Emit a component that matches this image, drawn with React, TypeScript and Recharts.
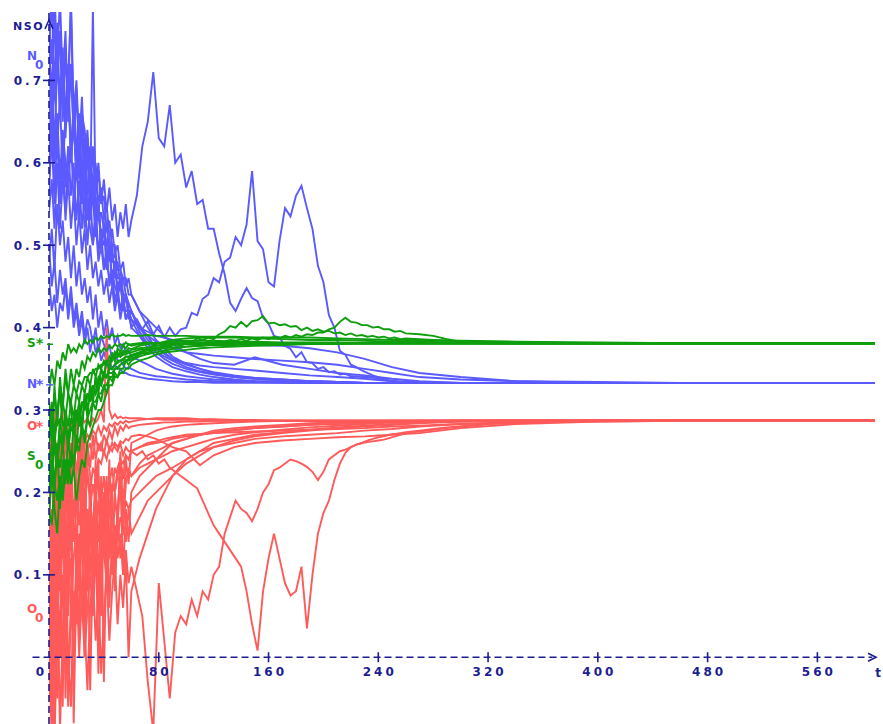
import React from 'react';
import { LineChart, Line, XAxis, YAxis, ReferenceLine, ReferenceDot } from 'recharts';

// ---------- time grids ----------
const T_A = [0,2,4,6,8,10,12,14,16,18,20,22,24,26,28,30,32,34,36,38,40,42,44,46,48,50,52,54,56,58,60,
  66,72,78,84,90,100,110,120,135,150,170,190,210,230,250,270,300,340,400,460,602];
const T_OUT = [0,2,4,6,8,10,12,14,16,18,20,22,24,26,28,30,32,34,36,38,40,42,44,46,48,50,52,54,56,58,60,
  64,68,72,76,80,84,88,92,96,100,104,108,112,116,120,124,128,132,136,140,144,148,152,156,160,
  164,168,172,176,180,184,188,192,196,200,204,208,212,216,220,224,228,232,236,240,244,248,252,256,260,
  270,280,290,300,320,340,360,400,460,602];

// ---------- axis ticks ----------
const X_TICKS = [80,160,240,320,400,480,560];
const Y_TICKS = [0.1,0.2,0.3,0.4,0.5,0.6,0.7];

// ---------- N (blue) runs on T_A ----------
const N1 = [.74,.80,.69,.77,.66,.72,.63,.70,.60,.66,.58,.63,.55,.61,.53,.57,.50,.55,.49,.52,.47,.50,.45,.47,.43,.45,.42,.44,.41,.42,.40,
  .39,.38,.37,.365,.36,.352,.347,.344,.34,.338,.336,.335,.334,.333,.333,.333,.333,.333,.333,.333,.333];
const N2 = [.66,.70,.62,.72,.68,.74,.66,.70,.79,.64,.60,.66,.58,.63,.56,.59,.55,.52,.55,.50,.52,.48,.50,.46,.47,.45,.46,.43,.44,.42,.42,
  .40,.39,.375,.37,.362,.355,.35,.345,.341,.339,.337,.335,.334,.333,.333,.333,.333,.333,.333,.333,.333];
const N3 = [.58,.63,.55,.60,.52,.58,.54,.62,.56,.60,.53,.58,.52,.56,.50,.55,.79,.55,.54,.51,.50,.53,.48,.50,.46,.48,.45,.46,.44,.43,.42,
  .40,.39,.383,.38,.375,.37,.368,.366,.364,.362,.36,.358,.355,.35,.345,.34,.337,.335,.334,.333,.333];
const N4 = [.50,.45,.48,.43,.47,.44,.46,.42,.45,.41,.43,.40,.42,.39,.41,.40,.38,.40,.37,.39,.38,.37,.38,.36,.37,.36,.36,.355,.35,.352,.35,
  .345,.343,.341,.34,.339,.337,.336,.335,.334,.334,.333,.333,.333,.333,.333,.333,.333,.333,.333,.333,.333];
const N5 = [.62,.68,.60,.66,.58,.64,.60,.57,.63,.55,.60,.53,.58,.52,.55,.52,.50,.53,.48,.50,.47,.48,.46,.47,.45,.44,.45,.43,.42,.42,.41,
  .40,.395,.39,.388,.385,.383,.382,.38,.38,.379,.378,.375,.37,.362,.352,.345,.34,.335,.333,.333,.333];
const N6 = [.70,.75,.68,.73,.66,.70,.64,.68,.62,.66,.60,.64,.58,.61,.57,.58,.55,.56,.53,.54,.52,.50,.51,.48,.48,.46,.46,.44,.44,.42,.42,
  .40,.385,.375,.368,.362,.357,.354,.352,.35,.348,.345,.342,.34,.338,.335,.334,.333,.333,.333,.333,.333];
const N7 = [.54,.58,.52,.60,.55,.63,.57,.62,.60,.65,.58,.62,.56,.60,.55,.56,.58,.53,.55,.51,.52,.50,.50,.48,.49,.47,.47,.46,.46,.44,.44,
  .42,.41,.40,.39,.38,.37,.362,.357,.355,.364,.355,.35,.345,.342,.338,.335,.333,.333,.333,.333,.333];
const N8 = [.46,.42,.44,.40,.43,.42,.45,.41,.44,.40,.42,.39,.41,.38,.40,.37,.39,.37,.38,.36,.37,.36,.36,.35,.355,.35,.35,.345,.345,.343,.342,
  .34,.338,.337,.336,.335,.334,.334,.333,.333,.333,.333,.333,.333,.333,.333,.333,.333,.333,.333,.333,.333];
const N9 = [.77,.72,.82,.70,.76,.68,.74,.66,.71,.64,.68,.62,.66,.60,.63,.58,.61,.56,.59,.55,.56,.52,.53,.50,.50,.47,.47,.44,.44,.42,.41,
  .39,.375,.365,.358,.352,.347,.343,.34,.337,.335,.334,.333,.333,.333,.333,.333,.333,.333,.333,.333,.333];
const N10 = [.75,.68,.78,.72,.80,.70,.76,.65,.72,.63,.69,.61,.66,.64,.60,.62,.57,.60,.55,.57,.53,.55,.51,.52,.49,.50,.47,.48,.45,.46,.44,
  .42,.40,.385,.375,.365,.356,.35,.346,.342,.339,.337,.335,.334,.333,.333,.333,.333,.333,.333,.333,.333];
const N11 = [.56,.64,.70,.62,.68,.58,.66,.72,.60,.68,.62,.58,.65,.55,.62,.53,.58,.51,.56,.49,.53,.47,.50,.45,.48,.44,.46,.42,.44,.41,.42,
  .395,.38,.37,.362,.356,.35,.346,.343,.34,.338,.336,.335,.334,.333,.333,.333,.333,.333,.333,.333,.333];
const N12 = [.48,.52,.47,.55,.50,.53,.48,.51,.46,.50,.45,.48,.44,.46,.43,.45,.41,.44,.40,.42,.39,.41,.385,.40,.38,.39,.375,.38,.37,.372,.365,
  .36,.355,.35,.347,.344,.341,.339,.337,.336,.335,.334,.333,.333,.333,.333,.333,.333,.333,.333,.333,.333];
// N outlier runs on T_OUT
const NO1 = [.72,.66,.78,.70,.76,.65,.73,.68,.80,.66,.70,.62,.68,.60,.64,.58,.62,.57,.60,.55,.58,.54,.57,.53,.55,.51,.54,.52,.55,.51,.53,
  .56,.62,.65,.71,.63,.62,.67,.60,.61,.57,
  .59,.55,.555,.52,.52,.49,.465,.43,.42,.435,
  .448,.436,.432,.412,.405,.39,.388,.378,.374,.364,
  .37,.358,.357,.35,.352,.346,.347,.343,.344,.341,
  .341,.34,.34,.339,.338,.337,.336,.335,.334,.334,
  .333,.333,.333,.333,.333,.333,.333,.333,.333,.333];
const NO2 = [.60,.66,.57,.63,.55,.61,.53,.58,.52,.56,.50,.54,.49,.52,.47,.50,.46,.48,.45,.47,.44,.46,.43,.45,.42,.44,.41,.43,.41,.42,.40,
  .41,.398,.408,.392,.402,.388,.40,.39,.398,.40,
  .418,.415,.435,.44,.46,.455,.48,.485,.51,.50,
  .525,.59,.505,.495,.455,.45,.505,.545,.535,.56,
  .572,.545,.52,.475,.455,.415,.40,.372,.367,.355,
  .352,.348,.345,.342,.34,.338,.336,.335,.334,.334,
  .333,.333,.333,.333,.333,.333,.333,.333,.333,.333];

// ---------- S (green) runs on T_A ----------
const S1 = [.30,.27,.32,.29,.33,.31,.34,.32,.35,.33,.35,.34,.36,.35,.365,.36,.37,.365,.375,.37,.375,.372,.378,.375,.38,.377,.38,.378,.382,.379,.38,
  .381,.382,.381,.38,.381,.381,.381,.381,.381,.381,.381,.381,.381,.381,.381,.381,.381,.381,.381,.381,.381];
const S2 = [.25,.22,.27,.24,.29,.26,.30,.28,.31,.29,.32,.31,.33,.32,.34,.33,.35,.34,.355,.35,.36,.355,.365,.36,.37,.365,.37,.368,.372,.37,.373,
  .375,.376,.378,.378,.379,.38,.38,.381,.381,.381,.381,.381,.381,.381,.381,.381,.381,.381,.381,.381,.381];
const S3 = [.20,.24,.18,.15,.21,.19,.23,.21,.25,.23,.26,.25,.28,.26,.29,.28,.31,.30,.32,.31,.33,.32,.34,.335,.345,.34,.35,.35,.36,.355,.36,
  .365,.368,.37,.372,.374,.377,.378,.379,.379,.38,.38,.381,.381,.381,.381,.381,.381,.381,.381,.381,.381];
const S4 = [.28,.31,.27,.30,.32,.28,.29,.25,.28,.27,.30,.28,.31,.30,.32,.31,.33,.32,.34,.335,.345,.34,.35,.35,.355,.357,.36,.362,.365,.364,.367,
  .37,.375,.38,.383,.385,.387,.388,.388,.388,.387,.386,.385,.385,.384,.383,.383,.382,.382,.381,.381,.381];
const S5 = [.22,.26,.21,.25,.23,.26,.22,.24,.21,.23,.19,.22,.24,.23,.26,.27,.28,.29,.30,.30,.31,.32,.33,.33,.34,.34,.345,.345,.35,.35,.355,
  .36,.363,.367,.37,.371,.373,.375,.376,.377,.378,.379,.38,.38,.381,.381,.381,.381,.381,.381,.381,.381];
const S6 = [.32,.35,.33,.36,.35,.37,.36,.38,.37,.375,.37,.38,.375,.385,.38,.385,.382,.388,.385,.39,.387,.39,.388,.392,.389,.39,.39,.392,.39,.391,.39,
  .39,.391,.39,.39,.39,.39,.389,.389,.389,.388,.388,.388,.387,.386,.385,.385,.384,.383,.382,.381,.381];
const S7 = [.26,.29,.25,.24,.27,.26,.28,.27,.29,.28,.30,.29,.31,.30,.32,.31,.33,.32,.335,.33,.345,.34,.35,.35,.355,.36,.36,.36,.365,.365,.366,
  .37,.372,.375,.377,.38,.38,.381,.381,.381,.381,.381,.381,.381,.381,.381,.381,.381,.381,.381,.381,.381];
const S8 = [.18,.16,.21,.19,.22,.20,.24,.22,.25,.24,.27,.26,.28,.27,.29,.30,.31,.31,.32,.32,.33,.33,.34,.34,.35,.35,.355,.357,.36,.362,.365,
  .368,.37,.373,.375,.376,.377,.378,.379,.38,.38,.381,.381,.381,.381,.381,.381,.381,.381,.381,.381,.381];
const S9 = [.17,.22,.20,.26,.18,.24,.21,.27,.23,.29,.25,.30,.27,.32,.29,.33,.31,.34,.32,.35,.34,.36,.35,.365,.36,.37,.365,.372,.37,.375,.374,
  .378,.38,.381,.382,.383,.384,.384,.384,.383,.383,.382,.382,.382,.381,.381,.381,.381,.381,.381,.381,.381];
const S10 = [.31,.26,.33,.28,.34,.30,.35,.32,.30,.27,.29,.31,.28,.32,.30,.33,.31,.34,.33,.35,.34,.36,.35,.37,.36,.375,.37,.378,.375,.38,.378,
  .38,.381,.381,.381,.381,.381,.381,.381,.381,.381,.381,.381,.381,.381,.381,.381,.381,.381,.381,.381,.381];
// S outlier runs on T_OUT
const SO1 = [.24,.21,.26,.23,.27,.25,.28,.26,.29,.28,.30,.29,.31,.30,.32,.31,.33,.32,.335,.33,.34,.34,.345,.345,.35,.352,.355,.357,.36,.36,.362,
  .365,.37,.368,.374,.373,.378,.376,.382,.379,.384,
  .382,.387,.385,.388,.386,.392,.395,.402,.40,.407,
  .401,.408,.409,.414,.405,.406,.403,.404,.401,.402,
  .397,.40,.396,.398,.395,.396,.393,.394,.391,.393,
  .39,.391,.389,.39,.388,.389,.387,.388,.386,.387,
  .386,.385,.384,.383,.382,.381,.381,.381,.381,.381];
const SO2 = [.27,.30,.26,.29,.28,.31,.29,.32,.31,.33,.32,.335,.33,.34,.34,.345,.345,.35,.35,.355,.355,.36,.36,.362,.363,.365,.365,.367,.368,.369,.37,
  .372,.374,.373,.377,.375,.379,.377,.38,.378,.381,
  .38,.382,.381,.383,.382,.384,.383,.385,.384,.386,
  .384,.387,.385,.388,.386,.389,.387,.39,.388,.391,
  .389,.392,.391,.394,.394,.398,.40,.407,.412,.407,
  .406,.403,.403,.40,.401,.398,.398,.395,.396,.393,
  .392,.39,.386,.383,.381,.381,.381,.381,.381,.381];

// ---------- O (red) runs on T_A ----------
const O1 = [.12,.04,.18,.08,.20,.12,.22,.15,.24,.17,.22,.19,.25,.21,.26,.23,.27,.24,.26,.25,.27,.26,.275,.265,.28,.27,.28,.275,.282,.278,.28,
  .282,.283,.284,.285,.285,.286,.286,.287,.287,.287,.287,.287,.287,.287,.287,.287,.287,.287,.287,.287,.287];
const O2 = [.02,-.10,.06,-.05,.04,.10,-.02,.08,.12,.03,.10,.15,.06,.14,.18,.10,.16,.20,.14,.19,.22,.17,.21,.23,.20,.23,.24,.22,.245,.24,.25,
  .255,.258,.26,.262,.265,.268,.27,.273,.276,.278,.28,.282,.283,.284,.285,.286,.287,.287,.287,.287,.287];
const O3 = [.25,.22,.27,.24,.28,.26,.29,.27,.28,.29,.30,.28,.29,.285,.29,.28,.29,.285,.29,.30,.285,.40,.30,.29,.295,.29,.292,.29,.291,.29,.29,
  .29,.289,.289,.288,.288,.288,.288,.287,.287,.287,.287,.287,.287,.287,.287,.287,.287,.287,.287,.287,.287];
const O4 = [.06,.14,-.04,.10,-.09,.03,.12,.00,-.06,.08,.04,.12,.06,.15,.10,.16,.12,.18,.14,.19,.17,.20,.18,.21,.20,.22,.21,.22,.215,.225,.22,
  .23,.235,.24,.245,.25,.255,.26,.265,.27,.273,.276,.279,.281,.283,.285,.286,.287,.287,.287,.287,.287];
const O5 = [.18,.24,.14,.22,.17,.23,.18,.20,.13,.17,.19,.16,.21,.18,.22,.20,.23,.22,.24,.235,.25,.24,.255,.25,.26,.255,.262,.26,.265,.263,.268,
  .27,.268,.265,.26,.255,.25,.233,.245,.255,.26,.263,.265,.267,.268,.27,.272,.278,.283,.286,.287,.287];
const O6 = [-.05,.05,-.10,.03,-.06,.00,.08,-.02,.06,.02,.09,.03,.07,.00,.06,.10,.05,.12,.07,.11,.13,.09,.14,.12,.16,.14,.17,.16,.19,.18,.19,
  .20,.21,.22,.225,.23,.24,.25,.255,.26,.265,.268,.27,.272,.275,.277,.28,.283,.285,.286,.287,.287];
const O7 = [.22,.27,.20,.25,.19,.23,.26,.21,.25,.23,.26,.24,.27,.26,.27,.265,.275,.27,.28,.27,.28,.275,.283,.28,.285,.282,.286,.284,.287,.285,.286,
  .288,.289,.29,.29,.29,.29,.289,.289,.288,.288,.287,.287,.287,.287,.287,.287,.287,.287,.287,.287,.287];
const O8 = [.08,.00,.12,.03,.14,.06,.10,.15,.05,.12,.16,.09,.15,.12,.08,.14,.17,.13,.19,.16,.20,.18,.22,.20,.23,.22,.24,.235,.245,.24,.25,
  .255,.26,.262,.265,.267,.27,.271,.272,.273,.274,.275,.276,.277,.278,.28,.281,.283,.285,.287,.287,.287];
const O9 = [.10,-.08,.20,.02,.16,-.06,.18,.05,.22,.00,.14,.08,.24,.04,.18,-.04,.12,.20,.06,.22,-.03,.15,.24,.10,.20,.16,.25,.18,.24,.21,.26,
  .265,.27,.275,.278,.28,.282,.283,.284,.285,.286,.287,.287,.287,.287,.287,.287,.287,.287,.287,.287,.287];
const O10 = [.00,.15,-.09,.09,.02,.20,-.05,.12,.16,-.08,.10,.04,.18,.00,.13,.20,.06,.16,-.02,.12,.18,.08,.14,.20,.12,.18,.22,.16,.21,.23,.22,
  .235,.245,.25,.255,.26,.265,.27,.272,.275,.278,.28,.282,.284,.285,.286,.287,.287,.287,.287,.287,.287];
const O11 = [.15,.28,.08,.24,.12,.30,.05,.22,.18,.28,.10,.24,.16,.26,.09,.20,.14,.24,.08,.18,.12,.20,.06,.15,.10,.17,.12,.16,.14,.18,.15,
  .17,.19,.20,.21,.22,.235,.245,.255,.263,.268,.272,.275,.278,.28,.282,.284,.286,.287,.287,.287,.287];
const O12 = [.28,.20,.30,.16,.27,.22,.29,.18,.26,.24,.30,.20,.27,.15,.25,.22,.10,.20,.24,.05,.18,.22,.12,.20,.08,.16,.22,.10,.18,.14,.20,
  .22,.23,.24,.25,.26,.265,.27,.275,.278,.28,.282,.284,.285,.286,.287,.287,.287,.287,.287,.287,.287];
const O13 = [.05,.12,-.02,.08,.00,.10,.04,-.06,.06,.02,.10,.00,.08,.04,-.04,.06,.10,.02,.08,-.02,.05,.10,.02,.08,.12,.04,.10,.06,.12,.00,.08,
  .12,.15,.18,.20,.22,.24,.25,.26,.265,.27,.273,.276,.279,.281,.283,.285,.286,.287,.287,.287,.287];
// O outlier runs on T_OUT
const OO1 = [.10,.18,.04,.15,.08,.20,.12,.17,.22,.14,.18,.21,.16,.20,.23,.18,.21,.19,.22,.17,.20,.16,.18,.14,.16,.12,.15,.10,.13,.09,.11,
  .08,.05,-.03,-.09,.09,.02,-.05,.03,.05,.04,
  .07,.05,.08,.07,.10,.11,.15,.17,.19,.18,
  .175,.165,.18,.20,.21,.227,.23,.235,.24,.238,
  .235,.231,.225,.215,.225,.24,.245,.25,.252,.255,
  .258,.26,.261,.262,.263,.264,.266,.268,.27,.272,
  .274,.276,.278,.28,.283,.285,.286,.287,.287,.287];
const OO2 = [.20,.26,.16,.24,.19,.27,.21,.25,.23,.27,.22,.26,.24,.27,.25,.26,.24,.27,.25,.26,.245,.265,.25,.26,.255,.25,.26,.245,.255,.25,.25,
  .245,.25,.24,.245,.235,.24,.23,.225,.22,.215,
  .21,.205,.19,.175,.16,.15,.14,.13,.12,.11,
  .08,.04,.008,.08,.12,.15,.12,.09,.075,.08,
  .11,.035,.10,.15,.175,.19,.215,.235,.248,.255,
  .258,.26,.263,.265,.267,.268,.27,.271,.272,.273,
  .275,.277,.279,.28,.283,.285,.286,.287,.287,.287];

// ---------- marker labels on the vertical axis ----------
const MARKERS = [
  { key: 'N0', letter: 'N', mark: '0', value: 0.725, series: 'N' },
  { key: 'Sstar', letter: 'S', mark: '*', value: 0.381, series: 'S' },
  { key: 'Nstar', letter: 'N', mark: '*', value: 0.333, series: 'N' },
  { key: 'Ostar', letter: 'O', mark: '*', value: 0.287, series: 'O' },
  { key: 'S0', letter: 'S', mark: '0', value: 0.2407, series: 'S' },
  { key: 'O0', letter: 'O', mark: '0', value: 0.055, series: 'O' },
];

// ---------- styles ----------
const NAVY = '#1c1c94';
const COLORS: Record<string, string> = { N: '#5a5aff', S: '#0e9e0e', O: '#ff5a5a' };
const FONT = "'DejaVu Sans', Verdana, sans-serif";
const MARK_DY: Record<string, number> = { N0: 0, Sstar: 4, Nstar: 5, Ostar: 9, S0: 1, O0: 1 };

const N_RUNS = [N1, N2, N3, N4, N5, N6, N7, N8, N9, N10, N11, N12];
const S_RUNS = [S1, S2, S3, S4, S5, S6, S7, S8, S9, S10];
const O_RUNS = [O1, O2, O3, O4, O5, O6, O7, O8, O9, O10, O11, O12, O13];
const N_OUT = [NO1, NO2];
const S_OUT = [SO1, SO2];
const O_OUT = [OO1, OO2];

const toRows = (ts: number[], vs: number[]) => ts.map((t, i) => ({ t, v: vs[i] }));

const YTick = (props: any) => {
  const { x, y, payload } = props;
  return (
    <g>
      <line x1={x - 6} x2={x + 6} y1={y} y2={y} stroke={NAVY} strokeWidth={1.6} />
      <text x={x - 5} y={y} dy={4.5} textAnchor="end" fill={NAVY} fontFamily={FONT} fontWeight="bold" fontSize={12} letterSpacing={3}>
        {String(payload.value)}
      </text>
    </g>
  );
};

const xTickShape = (label: string) => (p: any) => (
  <g>
    <line x1={p.cx} x2={p.cx} y1={p.cy - 5} y2={p.cy + 5} stroke={NAVY} strokeWidth={1.6} />
    <text x={p.cx + 1.5} y={p.cy + 19} textAnchor="middle" fill={NAVY} fontFamily={FONT} fontWeight="bold" fontSize={12} letterSpacing={3}>
      {label}
    </text>
  </g>
);

const originShape = (p: any) => (
  <text x={p.cx - 9} y={p.cy + 19} textAnchor="middle" fill={NAVY} fontFamily={FONT} fontWeight="bold" fontSize={12}>0</text>
);

const xArrowShape = (p: any) => (
  <g>
    <polyline points={`${p.cx - 7},${p.cy - 4} ${p.cx + 1},${p.cy} ${p.cx - 7},${p.cy + 4}`} fill="none" stroke={NAVY} strokeWidth={1.6} />
    <text x={p.cx + 3} y={p.cy + 20} textAnchor="middle" fill={NAVY} fontFamily={FONT} fontWeight="bold" fontSize={12}>t</text>
  </g>
);

const yArrowShape = (p: any) => (
  <g>
    <polyline points={`${p.cx - 4},${p.cy + 17} ${p.cx},${p.cy + 8} ${p.cx + 4},${p.cy + 17}`} fill="none" stroke={NAVY} strokeWidth={1.6} />
    <text x={p.cx - 5} y={p.cy + 18} textAnchor="end" fill={NAVY} fontFamily={FONT} fontWeight="bold" fontSize={11} letterSpacing={1.5}>NSO</text>
  </g>
);

const markerShape = (m: any) => (p: any) => {
  const color = COLORS[m.series];
  const dy = MARK_DY[m.key];
  const base = p.cy + dy;
  return (
    <g>
      <text x={p.cx - 22} y={base} fill={color} fontFamily={FONT} fontWeight="bold" fontSize={12}>{m.letter}</text>
      {m.mark === '0' ? (
        <text x={p.cx - 14} y={base + 9} fill={color} fontFamily={FONT} fontWeight="bold" fontSize={12}>0</text>
      ) : (
        <text x={p.cx - 13} y={base + 1} fill={color} fontFamily={FONT} fontWeight="bold" fontSize={14}>*</text>
      )}
      {m.key === 'Sstar' && <line x1={p.cx - 2} x2={p.cx + 4} y1={p.cy + 1} y2={p.cy + 1} stroke={color} strokeWidth={1.5} />}
      {m.key === 'Nstar' && <line x1={p.cx - 3} x2={p.cx + 4} y1={p.cy + 2} y2={p.cy + 2} stroke={color} strokeWidth={1.5} />}
    </g>
  );
};

const renderRuns = (runs: number[][], ts: number[], series: string, prefix: string) =>
  runs.map((vs, i) => (
    <Line
      key={`${prefix}${i}`}
      data={toRows(ts, vs)}
      dataKey="v"
      type="linear"
      stroke={COLORS[series]}
      strokeWidth={1.9}
      dot={false}
      activeDot={false}
      isAnimationActive={false}
    />
  ));

export default function App() {
  return (
    <div style={{ position: 'absolute', left: 0, top: 0, width: 883, height: 724, background: '#ffffff' }}>
      <LineChart width={883} height={724} margin={{ top: 12, right: 8, bottom: 0, left: 0 }}>
        <XAxis type="number" dataKey="t" domain={[0, 602]} allowDataOverflow hide />
        <YAxis
          type="number"
          domain={[-0.081, 0.783]}
          allowDataOverflow
          ticks={Y_TICKS}
          interval={0}
          width={49}
          axisLine={false}
          tickLine={false}
          tickSize={0}
          tickMargin={0}
          tick={<YTick />}
        />
        {renderRuns(N_RUNS, T_A, 'N', 'n')}
        {renderRuns(N_OUT, T_OUT, 'N', 'no')}
        {renderRuns(O_RUNS, T_A, 'O', 'o')}
        {renderRuns(O_OUT, T_OUT, 'O', 'oo')}
        {renderRuns(S_RUNS, T_A, 'S', 's')}
        {renderRuns(S_OUT, T_OUT, 'S', 'so')}
        <ReferenceLine x={0} stroke={NAVY} strokeWidth={1.6} strokeDasharray="7 4" ifOverflow="visible" />
        <ReferenceLine segment={[{ x: -12, y: 0 }, { x: 600, y: 0 }]} stroke={NAVY} strokeWidth={1.6} strokeDasharray="7 4" ifOverflow="visible" />
        {X_TICKS.map((t) => (
          <ReferenceDot key={`xt${t}`} x={t} y={0} r={0} ifOverflow="visible" shape={xTickShape(String(t))} />
        ))}
        <ReferenceDot x={0} y={0} r={0} ifOverflow="visible" shape={originShape} />
        <ReferenceDot x={602} y={0} r={0} ifOverflow="visible" shape={xArrowShape} />
        <ReferenceDot x={0} y={0.783} r={0} ifOverflow="visible" shape={yArrowShape} />
        {MARKERS.map((m) => (
          <ReferenceDot key={m.key} x={0} y={m.value} r={0} ifOverflow="visible" shape={markerShape(m)} />
        ))}
      </LineChart>
    </div>
  );
}
